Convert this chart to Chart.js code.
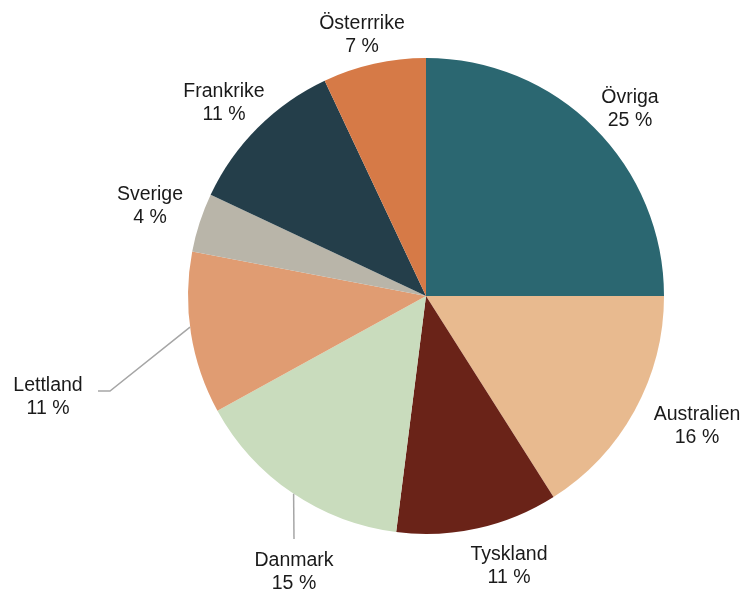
<!DOCTYPE html>
<html>
<head>
<meta charset="utf-8">
<style>
  html, body { margin: 0; padding: 0; background: #fff; }
  #wrap { width: 746px; height: 593px; }
</style>
<script src="https://cdn.jsdelivr.net/npm/chart.js@4/dist/chart.umd.min.js"></script>
</head>
<body>
<div id="wrap"><canvas id="pie" width="746" height="593"></canvas></div>
<script>
// andelar per land, medurs från kl 12
const countries = ['Övriga', 'Australien', 'Tyskland', 'Danmark', 'Lettland', 'Sverige', 'Frankrike', 'Österrrike'];
const shares = [25, 16, 11, 15, 11, 4, 11, 7];
const colors = ['#2b6771', '#e8ba8f', '#6a2318', '#c9dcbd', '#e09c72', '#b9b5a9', '#243e4a', '#d67a47'];

// etikettplacering relativt pajens mitt (px)
const labelOffset = [
  [204, -187], [271, 130], [83, 270], [-132, 276],
  [-378, 101], [-276, -90], [-202, -193], [-64, -261]
];
// hjälplinjer: vinkel på kanten (grader medurs från topp) + brytpunkter relativt mitten
const leaders = {
  3: { deg: 213.8, pts: [[-132, 243]] },
  4: { deg: 262.5, pts: [[-316, 95], [-328, 95]] }
};

const outsideLabels = {
  id: 'outsideLabels',
  afterDatasetsDraw(chart) {
    const ctx = chart.ctx;
    const meta = chart.getDatasetMeta(0);
    const arc0 = meta.data[0];
    const cx = arc0.x, cy = arc0.y, r = arc0.outerRadius;

    ctx.save();
    ctx.strokeStyle = '#a6a6a6';
    ctx.lineWidth = 1.5;
    Object.keys(leaders).forEach(k => {
      const l = leaders[k];
      const a = (l.deg - 90) * Math.PI / 180;
      ctx.beginPath();
      ctx.moveTo(cx + Math.cos(a) * r, cy + Math.sin(a) * r);
      l.pts.forEach(p => ctx.lineTo(cx + p[0], cy + p[1]));
      ctx.stroke();
    });

    ctx.fillStyle = '#1a1a1a';
    ctx.font = '19.5px "Liberation Sans", Arial, sans-serif';
    ctx.textAlign = 'center';
    ctx.textBaseline = 'middle';
    meta.data.forEach((arc, i) => {
      const x = cx + labelOffset[i][0];
      const y = cy + labelOffset[i][1];
      ctx.fillText(countries[i], x, y - 11.5);
      ctx.fillText(shares[i] + ' %', x, y + 11.5);
    });
    ctx.restore();
  }
};

new Chart(document.getElementById('pie'), {
  type: 'pie',
  data: {
    labels: countries,
    datasets: [{
      data: shares,
      backgroundColor: colors,
      borderWidth: 0
    }]
  },
  options: {
    responsive: false,
    animation: false,
    layout: { padding: { top: 58, bottom: 59, left: 188, right: 82 } },
    plugins: {
      legend: { display: false },
      tooltip: { enabled: false }
    }
  },
  plugins: [outsideLabels]
});
</script>
</body>
</html>
